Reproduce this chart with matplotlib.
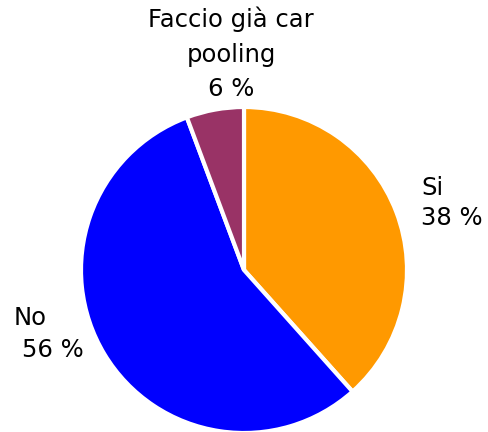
import matplotlib
matplotlib.use("Agg")
import matplotlib.pyplot as plt

categories = ["Si", "No", "Faccio già car\npooling"]
values = [38.4, 55.9, 5.7]
colors = ["#FF9900", "#0000FF", "#993366"]

W, H = 488, 432
fig = plt.figure(figsize=(W / 100, H / 100), dpi=100)
cx, cy, r = 244, 270, 163
ax = fig.add_axes([(cx - r) / W, (H - cy - r) / H, 2 * r / W, 2 * r / H])
ax.pie(values, colors=colors, startangle=90, counterclock=False,
       wedgeprops=dict(edgecolor="white", linewidth=3), radius=1.0)
ax.set_xlim(-1, 1)
ax.set_ylim(-1, 1)
ax.set_aspect("equal")
ax.axis("off")

fs = 17.5
def px(x, y):
    return x / W, 1 - y / H

def pct(v):
    return f"{round(v)} %"

# Faccio già car pooling
fig.text(*px(231, 54), f"{categories[2]}\n{pct(values[2])}", ha="center", va="center",
         fontsize=fs, linespacing=1.55, color="black")
# Si
fig.text(*px(421, 203), f"{categories[0]}\n{pct(values[0])}", ha="left", va="center",
         fontsize=fs, linespacing=1.35, color="black")
# No
fig.text(*px(14, 318), categories[1], ha="left", va="center", fontsize=fs, color="black")
fig.text(*px(22, 350), pct(values[1]), ha="left", va="center", fontsize=fs, color="black")

fig.savefig("out.png", dpi=100)
